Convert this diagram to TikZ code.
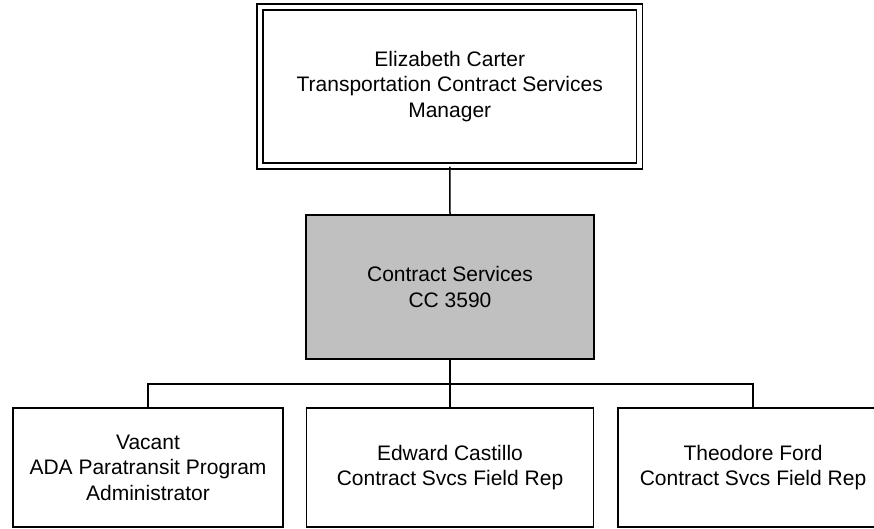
\documentclass[tikz,border=0pt]{standalone}
\usepackage{fontspec}
\setmainfont{Liberation Sans}
\definecolor{boxgray}{RGB}{192,192,192}
\begin{document}
\begin{tikzpicture}[x=1pt,y=-1pt,
  box/.style={draw, line width=1.5pt, align=center, inner sep=0pt,
    font=\fontsize{21}{25.5}\selectfont},
  conn/.style={line width=1.5pt}]
\path[use as bounding box, clip] (0,0) rectangle (874,529);
\node[box, double, double distance=4.5pt, minimum width=379.5pt, minimum height=159pt]
  (mgr) at (449.75,86.5) {Elizabeth Carter\\Transportation Contract Services\\Manager};
\node[box, fill=boxgray, minimum width=288pt, minimum height=144pt]
  (cs) at (450,287) {Contract Services\\CC 3590};
\node[box, minimum width=270pt, minimum height=119pt]
  (ada) at (148,467.5) {Vacant\\ADA Paratransit Program\\Administrator};
\node[box, minimum width=287pt, minimum height=119pt]
  (ec) at (450,467.5) {Edward Castillo\\Contract Svcs Field Rep};
\node[box, minimum width=270pt, minimum height=119pt]
  (tf) at (753,467.5) {Theodore Ford\\Contract Svcs Field Rep};
\coordinate (bus) at (450,384);
\draw[conn] (mgr.south) -- (cs.north);
\draw[conn] (cs.south) -- (bus);
\draw[conn] (ada.north) |- (bus) -| (tf.north);
\draw[conn] (ec.north) -- (bus);
\end{tikzpicture}
\end{document}
